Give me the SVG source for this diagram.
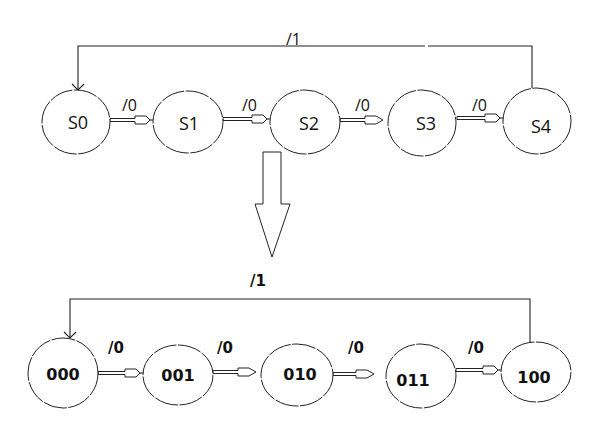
<svg xmlns="http://www.w3.org/2000/svg" width="613" height="421" viewBox="0 0 613 421">
<style>
.st{fill:#fff;stroke:#222;stroke-width:1;stroke-dasharray:24 1.5}
.ln{fill:none;stroke:#222;stroke-width:1.1}
.ar{fill:#fff;stroke:#222;stroke-width:1}
.t1{font-family:"Open Sans","Liberation Sans",sans-serif;font-size:18px;fill:#111;text-anchor:middle}
.t2{font-family:"DejaVu Sans",Verdana,sans-serif;font-size:16px;font-weight:bold;fill:#111;text-anchor:middle}
.l1{font-family:"Open Sans","Liberation Sans",sans-serif;font-size:16px;fill:#111}
.l2{font-family:"DejaVu Sans",Verdana,sans-serif;font-size:15px;font-weight:bold;fill:#111}
</style>
<g id="connectors">
<path class="ln" d="M78 90 V46 H425 M428 46 H532 V88"/>
<path class="ln" d="M72 84 L78 90 L84 84"/>
<path class="ln" d="M70 338 V299 H530 V342"/>
<path class="ln" d="M64 332 L70 338 L76 332"/>
<path class="ar" d="M110 118.5 H135 V116 L146 116 L150 120 L146 124 L135 124 V121.5 H110 Z"/><path class="ln" d="M150 120 H153"/>
<path class="ar" d="M223 117.5 H252 V115 L263 115 L267 119 L263 123 L252 123 V120.5 H223 Z"/><path class="ln" d="M267 119 H270"/>
<path class="ar" d="M340 118.5 H365 V116 L376 116 L383 120 L376 124 L365 124 V121.5 H340 Z"/>
<path class="ar" d="M457 116.5 H485 V114 L496 114 L500 118 L496 122 L485 122 V119.5 H457 Z"/><path class="ln" d="M500 118 H503"/>
<path class="ar" d="M98 371.5 H125 V369 L136 369 L140 373 L136 377 L125 377 V374.5 H98 Z"/><path class="ln" d="M140 373 H143"/>
<path class="ar" d="M213 370.5 H238 V368 L249 368 L256 372 L249 376 L238 376 V373.5 H213 Z"/>
<path class="ar" d="M333 372.5 H356 V370 L367 370 L374 374 L367 378 L356 378 V375.5 H333 Z"/>
<path class="ar" d="M456 368.5 H483 V366 L494 366 L498 370 L494 374 L483 374 V371.5 H456 Z"/><path class="ln" d="M498 370 H501"/>
<path class="ar" d="M263 152 H281 V204 H290 L272 257 L255 204 H263 Z"/>
</g>
<g id="labels">
<text class="l1" x="286" y="45">/1</text>
<text class="l1" x="122" y="111">/0</text>
<text class="l1" x="242" y="111">/0</text>
<text class="l1" x="355" y="111">/0</text>
<text class="l1" x="472" y="111">/0</text>
<text class="l2" x="250" y="286">/1</text>
<text class="l2" x="108" y="353">/0</text>
<text class="l2" x="217" y="353">/0</text>
<text class="l2" x="348" y="353">/0</text>
<text class="l2" x="468" y="353">/0</text>
</g>
<g id="S0"><ellipse class="st" cx="76" cy="122" rx="34" ry="32"/><text class="t1" x="78" y="129">S0</text></g>
<g id="S1"><ellipse class="st" cx="188" cy="122" rx="35" ry="31"/><text class="t1" x="189" y="130">S1</text></g>
<g id="S2"><ellipse class="st" cx="305" cy="122" rx="35" ry="32"/><text class="t1" x="309" y="130">S2</text></g>
<g id="S3"><ellipse class="st" cx="422" cy="123" rx="34" ry="33"/><text class="t1" x="426" y="130">S3</text></g>
<g id="S4"><ellipse class="st" cx="537" cy="121" rx="34" ry="33"/><text class="t1" x="541" y="133">S4</text></g>
<g id="n000"><ellipse class="st" cx="63" cy="373" rx="35" ry="35"/><text class="t2" x="63" y="380">000</text></g>
<g id="n001"><ellipse class="st" cx="178" cy="375" rx="35" ry="30"/><text class="t2" x="178" y="381">001</text></g>
<g id="n010"><ellipse class="st" cx="297" cy="375" rx="36" ry="31"/><text class="t2" x="300" y="380">010</text></g>
<g id="n011"><ellipse class="st" cx="421" cy="376" rx="35" ry="32"/><text class="t2" x="413" y="386">011</text></g>
<g id="n100"><ellipse class="st" cx="536" cy="372" rx="35" ry="30"/><text class="t2" x="534" y="383">100</text></g>
</svg>
